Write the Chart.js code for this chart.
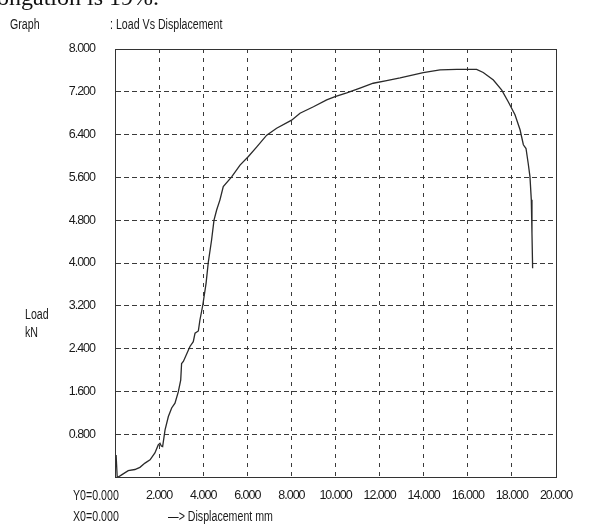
<!DOCTYPE html>
<html>
<head>
<meta charset="utf-8">
<script src="https://cdn.jsdelivr.net/npm/chart.js@4.4.1/dist/chart.umd.min.js"></script>
<style>
  body { margin: 0; background: #fff; }
  #wrap { position: relative; width: 592px; height: 526px; overflow: hidden; background: #fff; }
  #wrap canvas { position: absolute; left: 0; top: 0; }
  .lbl { position: absolute; font-family: 'Liberation Sans', Arial, sans-serif; font-size: 14px; line-height: 14px; color: #1a1a1a; white-space: nowrap; transform: scaleX(0.76); transform-origin: 0 50%; }
  .head { position: absolute; left: -3px; top: -15px; font-family: 'Liberation Serif', 'DejaVu Serif', serif; font-size: 24px; line-height: 24px; color: #111; white-space: nowrap; }
</style>
</head>
<body>
<div id="wrap">
  <canvas id="loadChart" width="592" height="526"></canvas>
  <div class="head">ongation is 19%.</div>
  <div class="lbl" style="left:10px;top:17px">Graph</div>
  <div class="lbl" style="left:110px;top:17px">: Load Vs Displacement</div>
  <div class="lbl" style="left:25px;top:307px">Load</div>
  <div class="lbl" style="left:25px;top:325px">kN</div>
  <div class="lbl" style="left:73px;top:488px">Y0=0.000</div>
  <div class="lbl" style="left:73px;top:509px">X0=0.000</div>
  <div class="lbl" style="left:168px;top:509px">—&gt; Displacement mm</div>
</div>
<script>
// valores (deslocamento mm / carga kN)
const dispX = [0.05, 0.10, 0.15, 0.30, 0.60, 0.90, 1.13, 1.36, 1.59, 1.81, 1.96, 2.04, 2.10, 2.16,
  2.27, 2.42, 2.57, 2.72, 2.87, 2.98, 3.02, 3.10, 3.40, 3.55, 3.63, 3.78, 3.85, 3.98, 4.13, 4.23,
  4.38, 4.49, 4.61, 4.76, 4.91, 5.29, 5.67, 6.05, 6.43, 6.88, 7.33, 8.01, 8.39, 9.00, 9.60, 9.98,
  10.51, 11.11, 11.71, 12.32, 12.93, 13.68, 13.98, 14.74, 15.50, 16.40, 16.70, 17.16, 17.54, 17.84,
  18.14, 18.37, 18.52, 18.64, 18.74, 18.82, 18.88, 18.91, 18.94];
const loadY = [0.41, 0.00, 0.00, 0.04, 0.12, 0.14, 0.18, 0.26, 0.32, 0.45, 0.60, 0.63, 0.58, 0.57,
  0.88, 1.13, 1.29, 1.38, 1.59, 1.81, 2.12, 2.16, 2.44, 2.53, 2.69, 2.73, 2.93, 3.21, 3.62, 4.01,
  4.43, 4.80, 4.99, 5.18, 5.43, 5.61, 5.83, 5.99, 6.17, 6.39, 6.52, 6.67, 6.80, 6.92, 7.05, 7.11,
  7.18, 7.27, 7.36, 7.41, 7.46, 7.53, 7.56, 7.61, 7.62, 7.62, 7.56, 7.42, 7.23, 7.01,
  6.77, 6.49, 6.21, 6.14, 5.86, 5.61, 5.18, 4.56, 3.90];

const xTicks = [0, 2, 4, 6, 8, 10, 12, 14, 16, 18, 20];
const yTicks = [0, 0.8, 1.6, 2.4, 3.2, 4.0, 4.8, 5.6, 6.4, 7.2, 8.0];

const FONT = { family: "'Liberation Sans', Arial, sans-serif", size: 12.5 };

// texto mais estreito, parecido com a fonte da maquina
const narrow = {
  id: 'narrow',
  beforeUpdate(chart) { chart.ctx.letterSpacing = '-1px'; },
  beforeDraw(chart) { chart.ctx.letterSpacing = '-1px'; }
};

// moldura do grafico (topo e direita)
const frame = {
  id: 'frame',
  afterDraw(chart) {
    const a = chart.chartArea, c = chart.ctx;
    c.save();
    c.strokeStyle = '#333';
    c.lineWidth = 1;
    c.strokeRect(a.left + 0.5, a.top + 0.5, a.right - a.left, a.bottom - a.top);
    c.restore();
  }
};

new Chart(document.getElementById('loadChart'), {
  type: 'line',
  data: {
    datasets: [{
      data: dispX.map((x, i) => ({ x: x, y: loadY[i] })),
      borderColor: '#2a2a2a',
      borderWidth: 1.3,
      pointRadius: 0,
      tension: 0,
      fill: false
    }]
  },
  options: {
    responsive: false,
    animation: false,
    layout: { padding: { top: 49, right: 36, left: 0, bottom: 0 } },
    plugins: { legend: { display: false }, tooltip: { enabled: false } },
    scales: {
      x: {
        type: 'linear', min: 0, max: 20,
        afterBuildTicks: s => { s.ticks = xTicks.map(v => ({ value: v })); },
        afterFit: s => { s.height = 49; },
        grid: { color: '#3a3a3a', lineWidth: 1, drawTicks: false },
        border: { display: true, color: '#333', width: 1, dash: [4, 5] },
        ticks: { color: '#1a1a1a', font: FONT, padding: 11, maxRotation: 0,
          callback: v => v === 0 ? '' : v.toFixed(3) }
      },
      y: {
        type: 'linear', min: 0, max: 8,
        afterBuildTicks: s => { s.ticks = yTicks.map(v => ({ value: v })); },
        afterFit: s => { s.width = 115; },
        grid: { color: '#3a3a3a', lineWidth: 1, drawTicks: false },
        border: { display: true, color: '#333', width: 1, dash: [5, 3] },
        ticks: { color: '#1a1a1a', font: FONT, padding: 20,
          callback: v => v === 0 ? '' : v.toFixed(3) }
      }
    }
  },
  plugins: [narrow, frame]
});
</script>
</body>
</html>
